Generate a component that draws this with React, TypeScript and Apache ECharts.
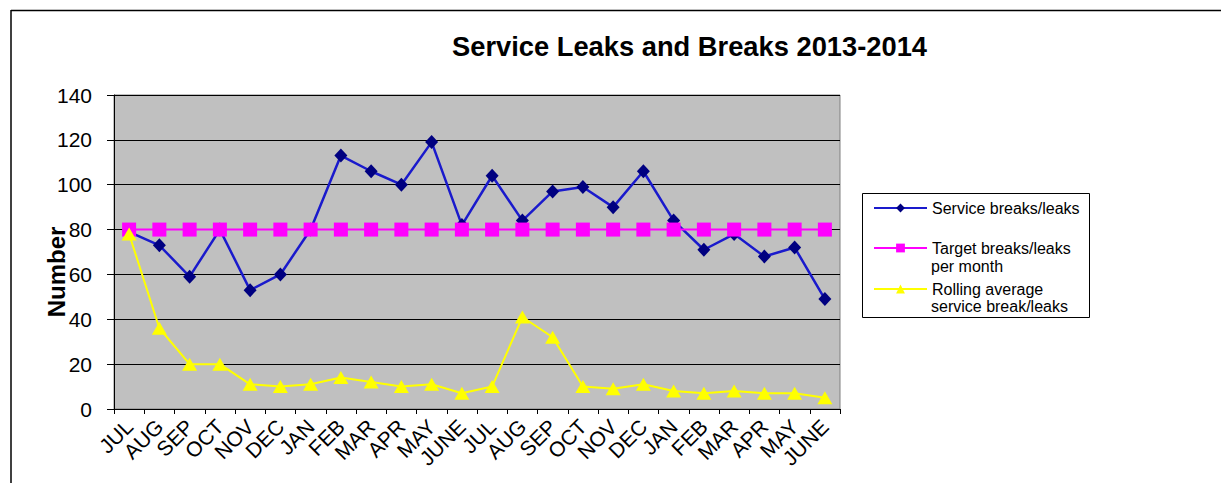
import React, { useEffect, useRef } from "react";
import * as echarts from "echarts";

const categories = [
  "JUL", "AUG", "SEP", "OCT", "NOV", "DEC", "JAN", "FEB", "MAR", "APR", "MAY", "JUNE",
  "JUL", "AUG", "SEP", "OCT", "NOV", "DEC", "JAN", "FEB", "MAR", "APR", "MAY", "JUNE",
];
const serviceBreaks = [79, 73, 59, 80, 53, 60, 80, 113, 106, 100, 119, 82, 104, 84, 97, 99, 90, 106, 84, 71, 78, 68, 72, 49];
const targetBreaks = [80, 80, 80, 80, 80, 80, 80, 80, 80, 80, 80, 80, 80, 80, 80, 80, 80, 80, 80, 80, 80, 80, 80, 80];
const rollingAverage = [78, 36, 20, 20, 11, 10, 11, 14, 12, 10, 11, 7, 10, 41, 32, 10, 9, 11, 8, 7, 8, 7, 7, 5];
const yTicks = { min: 0, max: 140, interval: 20 };
const legendLines = [
  ["Service breaks/leaks"],
  ["Target breaks/leaks", "per month"],
  ["Rolling average", "service break/leaks"],
];

const FONT = "'Liberation Sans', Arial, sans-serif";

export default function App() {
  const ref = useRef<HTMLDivElement>(null);
  useEffect(() => {
    document.body.style.margin = "0";
    const chart = echarts.init(ref.current!, null, { renderer: "svg" });
    const legendText = { color: "#000", fontFamily: FONT, fontSize: 16, lineHeight: 18 };
    const seriesNames = legendLines.map((l) => l.join(" "));
    const legendTops = [199, 239, 280];
    const secondLineY = [0, 266, 306];
    chart.setOption({
      animation: false,
      backgroundColor: "#ffffff",
      title: {
        text: "Service Leaks and Breaks 2013-2014",
        left: 452,
        top: 31,
        padding: 0,
        textStyle: { fontFamily: FONT, fontSize: 27.3, fontWeight: "bold", color: "#000", lineHeight: 30 },
      },
      graphic: [
        { type: "line", shape: { x1: 11, y1: 10.5, x2: 1221, y2: 10.5 }, style: { stroke: "#000", lineWidth: 1.5 }, z: 0 },
        { type: "line", shape: { x1: 11, y1: 10, x2: 11, y2: 483 }, style: { stroke: "#000", lineWidth: 1.5 }, z: 0 },
        { type: "rect", shape: { x: 862.5, y: 193.5, width: 227, height: 124 }, style: { fill: "#fff", stroke: "#000", lineWidth: 1 }, z: 0 },
        ...legendLines
          .map((l, i) => ({ l, i }))
          .filter(({ l }) => l.length > 1)
          .map(({ l, i }) => ({
            type: "text",
            x: 931,
            y: secondLineY[i],
            z: 5,
            style: { text: l[1], fill: "#000", font: `16px ${FONT}`, verticalAlign: "middle", align: "left" },
          })),
      ],
      legend: legendLines.map((l, i) => ({
        data: [seriesNames[i]],
        orient: "vertical",
        left: 873,
        top: legendTops[i],
        padding: 0,
        itemWidth: 53,
        itemHeight: 11,
        itemGap: 0,
        formatter: () => l[0],
        textStyle: legendText,
      })),
      grid: {
        left: 114, top: 95, right: 381, bottom: 74,
        show: true, backgroundColor: "#c0c0c0", borderColor: "#808080", borderWidth: 1,
        containLabel: false,
      },
      xAxis: {
        type: "category",
        data: categories,
        boundaryGap: true,
        axisLine: { lineStyle: { color: "#000", width: 1 } },
        axisTick: { show: true, length: 5, lineStyle: { color: "#000" } },
        axisLabel: { rotate: 45, interval: 0, margin: 14, fontFamily: FONT, fontSize: 21, color: "#000" },
        splitLine: { show: false },
      },
      yAxis: {
        type: "value",
        min: yTicks.min, max: yTicks.max, interval: yTicks.interval,
        name: "Number",
        nameLocation: "middle",
        nameRotate: 90,
        nameGap: 46,
        nameMoveOverlap: false,
        nameTextStyle: { fontFamily: FONT, fontSize: 24, fontWeight: "bold", color: "#000", padding: [0, 40, 0, 0] },
        axisLine: { show: true, lineStyle: { color: "#000", width: 1 } },
        axisTick: { show: true, length: 7, lineStyle: { color: "#000" } },
        axisLabel: { margin: 22, fontFamily: FONT, fontSize: 21, color: "#000" },
        splitLine: { show: true, lineStyle: { color: "#000", width: 1 } },
      },
      series: [
        {
          name: seriesNames[0],
          type: "line",
          data: serviceBreaks,
          symbol: "diamond",
          symbolSize: [13, 14],
          lineStyle: { color: "#1a1acc", width: 2.5 },
          itemStyle: { color: "#000080" },
        },
        {
          name: seriesNames[1],
          type: "line",
          data: targetBreaks,
          symbol: "rect",
          symbolSize: 14,
          lineStyle: { color: "#ff00ff", width: 2 },
          itemStyle: { color: "#ff00ff" },
        },
        {
          name: seriesNames[2],
          type: "line",
          data: rollingAverage,
          symbol: "triangle",
          symbolSize: [15, 13],
          lineStyle: { color: "#ffff00", width: 2 },
          itemStyle: { color: "#ffff00" },
        },
      ],
    });
    return () => chart.dispose();
  }, []);
  return <div ref={ref} style={{ width: 1221, height: 483 }} />;
}
